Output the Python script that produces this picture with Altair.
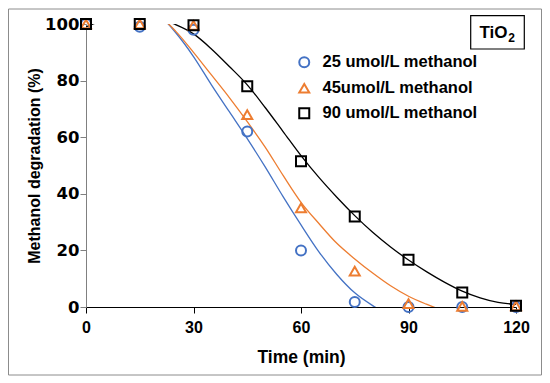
import altair as alt
import pandas as pd

# ---- data ----
times = [0, 15, 30, 45, 60, 75, 90, 105, 120]
deg_25 = [100, 99, 98, 62, 20, 1.8, 0, 0, 0]
deg_45 = [100, 100, 99.5, 68, 35, 12.7, 1.2, 0.2, 0.4]
deg_90 = [100, 100, 99.6, 78, 51.5, 32, 16.7, 5.1, 0.4]

series = ["25 umol/L methanol", "45umol/L methanol", "90 umol/L methanol"]

# fitted trend lines (parts above 100 / below 0 are clipped)
fit_t_25 = [18, 22, 25, 30, 35, 40, 45, 50, 55, 60, 65, 70, 75, 80, 82]
fit_25 = [104, 101.2, 97, 88.5, 78.5, 69, 59.5, 49.5, 39, 29, 19.5, 11.5, 5, 0.5, -1]
fit_t_45 = [18, 22, 25, 30, 35, 40, 45, 50, 55, 60, 65, 70, 75, 80, 85, 90, 95, 98]
fit_45 = [104, 101.2, 97.5, 90, 82, 74, 65.5, 56.5, 46.5, 37, 29.5, 22.5, 17, 12, 7.5, 3.8, 1, -0.5]
fit_t_90 = [0, 2, 4, 8, 12, 16, 20, 22, 25, 30, 35, 40, 45, 50, 55, 60, 65, 70, 75, 80,
            85, 90, 95, 100, 105, 110, 115, 120]
fit_90 = [99, 100, 101, 102.5, 103.2, 103, 102, 101.2, 99.8, 96.5, 91.2, 85, 78.5, 70.5, 62,
          53.5, 45.8, 38.8, 32.3, 26.4, 21.2, 16.6, 12.5, 8.8, 5.6, 3.2, 1.6, 0.9]

colors = ["#4472C4", "#ED7D31", "#000000"]
shapes = ["circle", "triangle-up", "square"]

# ---- tables ----
pts = pd.DataFrame({
    "t": times * 3,
    "v": deg_25 + deg_45 + deg_90,
    "s": [series[0]] * 9 + [series[1]] * 9 + [series[2]] * 9,
})
fits = [
    pd.DataFrame({"t": fit_t_25, "v": fit_25}),
    pd.DataFrame({"t": fit_t_45, "v": fit_45}),
    pd.DataFrame({"t": fit_t_90, "v": fit_90}),
]
one = pd.DataFrame({"a": [0]})

LAB = "Liberation Sans"

xscale = alt.Scale(domain=[0, 120], nice=False, zero=False)
yscale = alt.Scale(domain=[0, 100], nice=False)

xaxis = alt.Axis(values=[0, 30, 60, 90, 120], title="Time (min)", grid=False,
                 tickSize=6, tickColor="#000000", domainColor="#000000",
                 labelFont=LAB, labelFontSize=16, labelFontWeight="bold", labelColor="#000000",
                 labelPadding=6, titleFont=LAB, titleFontSize=17.5, titleFontWeight="bold",
                 titleColor="#000000", titlePadding=13, labelFlush=False)
yaxis = alt.Axis(values=[0, 20, 40, 60, 80, 100], title="Methanol degradation (%)", grid=False,
                 tickSize=6, tickColor="#808080", domainColor="#808080",
                 labelFont="DejaVu Sans", labelFontSize=16.5, labelFontWeight="bold",
                 labelColor="#000000", labelPadding=1, titleFont=LAB, titleFontSize=16,
                 titleFontWeight="bold", titleColor="#000000", titlePadding=2, labelFlush=False)

legend = alt.Legend(orient="none", legendX=210, legendY=30, title=None, labelFont=LAB,
                    labelFontSize=16.5, labelFontWeight="bold", labelColor="#000000",
                    symbolSize=100, symbolStrokeWidth=2, rowPadding=7, labelOffset=10, padding=0)

border = alt.Chart(one).mark_rect(fillOpacity=0, stroke="#8c8c8c", strokeWidth=1).encode(
    x=alt.value(-77.5), x2=alt.value(455.5), y=alt.value(-15), y2=alt.value(351))

lines = [
    alt.Chart(f).mark_line(clip=True, color=c, strokeWidth=1.3, interpolate="monotone").encode(
        x=alt.X("t:Q", scale=xscale, axis=xaxis),
        y=alt.Y("v:Q", scale=yscale, axis=yaxis),
    )
    for f, c in zip(fits, colors)
]

points = alt.Chart(pts).mark_point(filled=False, strokeWidth=2, size=100, opacity=1).encode(
    x=alt.X("t:Q", scale=xscale, axis=xaxis),
    y=alt.Y("v:Q", scale=yscale, axis=yaxis),
    color=alt.Color("s:N", scale=alt.Scale(domain=series, range=colors), legend=legend),
    shape=alt.Shape("s:N", scale=alt.Scale(domain=series, range=shapes), legend=legend),
)

tio_box = alt.Chart(one).mark_rect(fillOpacity=0, stroke="#000000", strokeWidth=1.2).encode(
    x=alt.value(384.7), x2=alt.value(438.3), y=alt.value(-8.3), y2=alt.value(25))
tio_text = alt.Chart(one).mark_text(text="TiO", font=LAB, fontSize=17, fontWeight="bold",
                                    align="left", baseline="alphabetic", color="#000000").encode(
    x=alt.value(393.5), y=alt.value(13.7))
tio_sub = alt.Chart(one).mark_text(text="2", font=LAB, fontSize=12, fontWeight="bold",
                                   align="left", baseline="alphabetic", color="#000000").encode(
    x=alt.value(422.3), y=alt.value(18.4))

chart = alt.layer(border, *lines, points, tio_box, tio_text, tio_sub).properties(
    width=430, height=283, padding=0, background="white"
).configure_view(stroke=None)

chart.save("out.html", embed_options={"renderer": "svg", "actions": False})
